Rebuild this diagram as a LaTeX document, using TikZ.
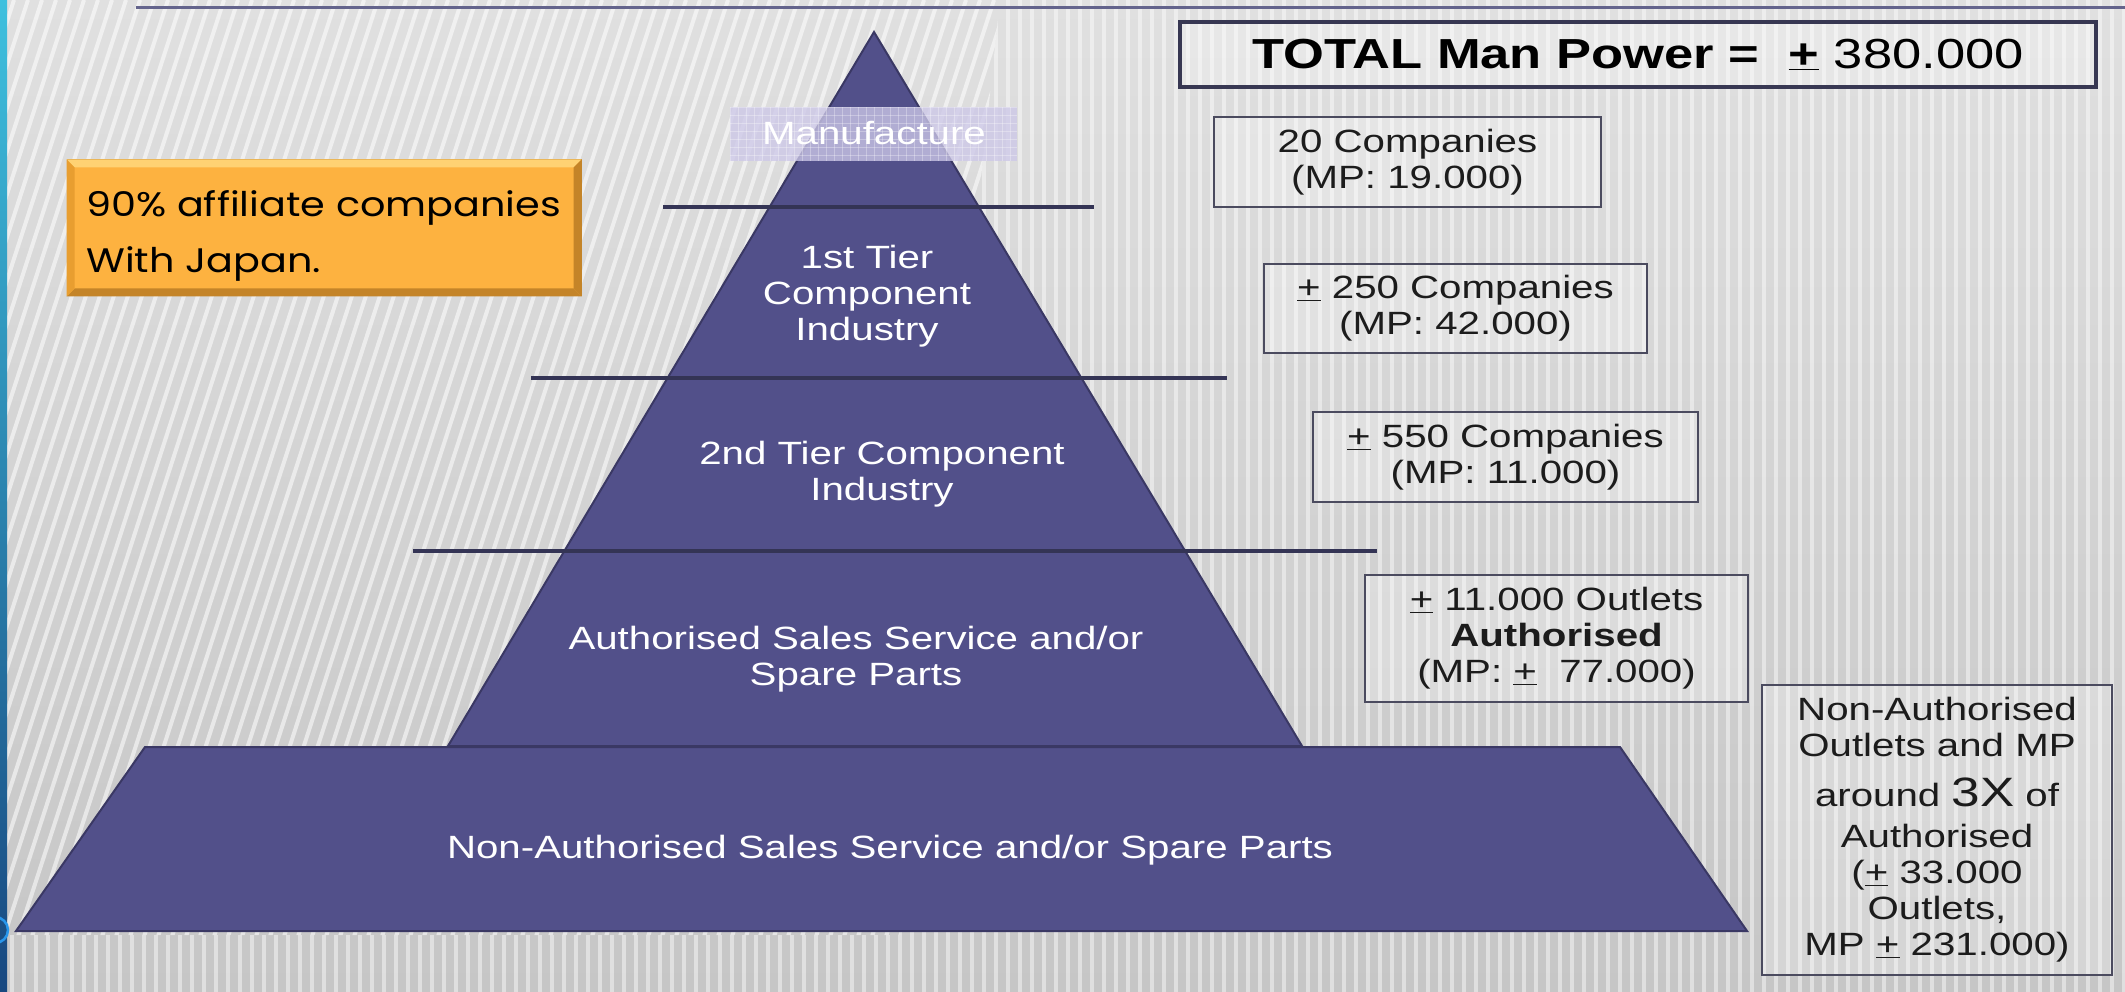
\documentclass[tikz,border=0pt]{standalone}
\usepackage{fontspec}
\newfontfamily\A[FakeStretch=1.25]{Liberation Sans}
\newfontfamily\B[FakeStretch=1.17]{Poppins}
\newcommand\plm{\underline{+}}
\definecolor{bgtop}{RGB}{224,224,224}
\definecolor{bgbot}{RGB}{198,198,198}
\definecolor{pyr}{RGB}{82,80,138}
\definecolor{pyredge}{RGB}{58,56,100}
\definecolor{sepc}{RGB}{52,52,85}
\definecolor{manu}{RGB}{205,200,232}
\definecolor{orng}{RGB}{253,178,64}
\definecolor{orlight}{RGB}{255,210,115}
\definecolor{ordark}{RGB}{196,132,40}
\definecolor{ormid}{RGB}{232,158,48}
\definecolor{boxb}{RGB}{75,75,95}
\definecolor{totb}{RGB}{55,55,82}
\definecolor{teala}{RGB}{62,192,222}
\definecolor{tealb}{RGB}{24,72,128}
\definecolor{bluec}{RGB}{40,150,235}
\definecolor{topl}{RGB}{100,100,140}
\definecolor{txt}{RGB}{28,28,28}
\tikzset{
  infobox/.style={draw=boxb,line width=1.6pt,fill=white,fill opacity=.25,text opacity=1,
    text=txt,align=center,inner sep=0pt,font=\A\fontsize{32.2}{36}\selectfont},
  pyrtext/.style={text=white,align=center,inner sep=0pt,font=\A\fontsize{32.2}{36}\selectfont},
  sepline/.style={draw=sepc,line width=4pt},
}
\begin{document}
\begin{tikzpicture}[x=1pt,y=-1pt]
\useasboundingbox (0,0) rectangle (2125,992);
% background
\shade[top color=bgtop,bottom color=bgbot] (0,0) rectangle (2125,992);
\begin{scope}
  \clip (0,0) -- (1000,0) -- (900,935) -- (0,935) -- cycle;
  \foreach \i in {-420,-406,...,1120} \draw[white,opacity=.55,line width=4pt] (\i,992) -- (\i+322,0);
\end{scope}
\begin{scope}
  \clip (1000,0) -- (2125,0) -- (2125,992) -- (0,992) -- (0,935) -- (900,935) -- cycle;
  \foreach \i in {0,12,...,2125} \draw[white,opacity=.45,line width=4pt] (\i,0) -- (\i,992);
\end{scope}
\shade[top color=teala,bottom color=tealb] (0,0) rectangle (7,992);
\draw[bluec,line width=2.5pt] (-5,930) circle (13pt);
\draw[topl,line width=3pt] (136,8) -- (2125,8);
% pyramid
\filldraw[fill=pyr,draw=pyredge,line width=2pt] (145,747) -- (1620,747) -- (1747,931) -- (16,931) -- cycle;
\filldraw[fill=pyr,draw=pyredge,line width=2pt] (874,32) -- (1302,746) -- (448,746) -- cycle;
\draw[sepline] (663,207) -- (1094,207);
\draw[sepline] (531,378) -- (1227,378);
\draw[sepline] (413,551) -- (1377,551);
% manufacture box
\begin{scope}
  \fill[manu,opacity=.78] (730,107) rectangle (1017,161);
  \clip (730,107) rectangle (1017,161);
  \foreach \i in {730,738,...,1018} \draw[white,opacity=.3,line width=.8pt] (\i,107) -- (\i,161);
  \foreach \j in {107,115,...,161} \draw[white,opacity=.3,line width=.8pt] (730,\j) -- (1017,\j);
\end{scope}
\node[pyrtext,anchor=base] (manuf) at (874,145) {Manufacture};
\node[pyrtext] (tier1) at (867,296) {1st Tier\\Component\\Industry};
\node[pyrtext] (tier2) at (882,474) {2nd Tier Component\\Industry};
\node[pyrtext] (auth) at (856,659) {Authorised Sales Service and/or\\Spare Parts};
\node[pyrtext,anchor=base] (nonauth) at (890,858) {Non-Authorised Sales Service and/or Spare Parts};
% orange box
\node[fill=orng,draw=ordark,line width=1pt,minimum width=514pt,minimum height=136pt,inner sep=0pt] (obox) at (324,228) {};
\fill[orlight] (obox.north west) -- (obox.north east) -- ([shift={(-8,8)}]obox.north east) -- ([shift={(8,8)}]obox.north west) -- cycle;
\fill[ordark] (obox.south west) -- (obox.south east) -- ([shift={(-8,-8)}]obox.south east) -- ([shift={(8,-8)}]obox.south west) -- cycle;
\fill[ormid] (obox.north west) -- ([shift={(8,8)}]obox.north west) -- ([shift={(8,-8)}]obox.south west) -- (obox.south west) -- cycle;
\fill[ordark] (obox.north east) -- ([shift={(-8,8)}]obox.north east) -- ([shift={(-8,-8)}]obox.south east) -- (obox.south east) -- cycle;
\node[anchor=north west,align=left,inner sep=0pt,text=black,font=\B\fontsize{34}{56}\selectfont] (otext) at (86,190) {90\% affiliate companies\\With Japan.};
% right boxes
\node[infobox,draw=totb,line width=4pt,minimum width=916pt,minimum height=65pt,font=\A\fontsize{42}{44}\selectfont,text=black] (total) at (1638,54.5) {\textbf{TOTAL Man Power =~~\plm}~380.000};
\node[infobox,minimum width=387pt,minimum height=90pt] (b1) at (1407.5,162) {20 Companies\\(MP: 19.000)};
\node[infobox,minimum width=383pt,minimum height=89pt] (b2) at (1455.5,308.5) {\plm{} 250 Companies\\(MP: 42.000)};
\node[infobox,minimum width=385pt,minimum height=90pt] (b3) at (1505.5,457) {\plm{} 550 Companies\\(MP: 11.000)};
\node[infobox,minimum width=383pt,minimum height=127pt] (b4) at (1556.5,638.5) {\plm{} 11.000 Outlets\\\textbf{Authorised}\\(MP: \plm~~77.000)};
\node[infobox,minimum width=350pt,minimum height=290pt] (b5) at (1937,830) {Non-Authorised\\Outlets and MP\\[14pt]around {\fontsize{41}{41}\selectfont 3X} of\\[5pt]Authorised\\(\plm{} 33.000\\Outlets,\\MP \plm{} 231.000)};
\end{tikzpicture}
\end{document}
